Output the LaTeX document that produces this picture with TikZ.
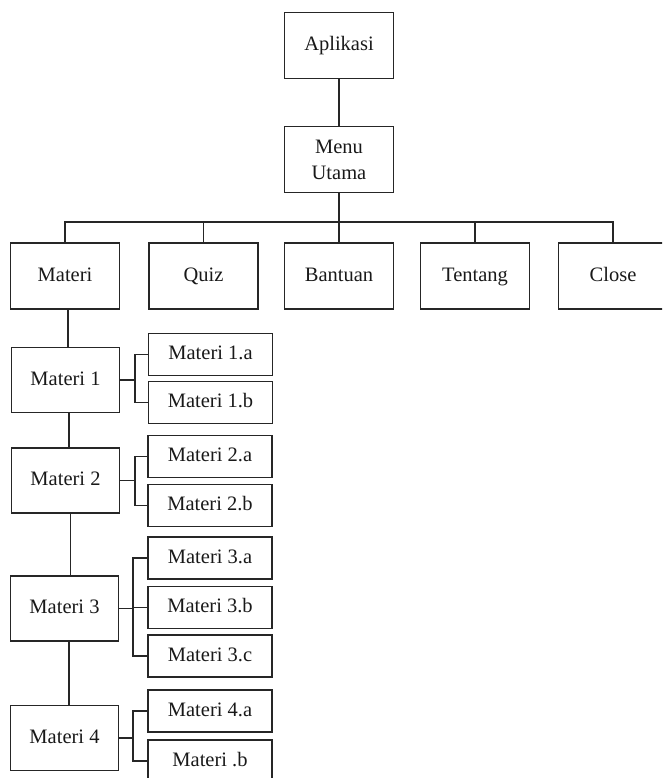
\documentclass[tikz,border=0pt]{standalone}
\usepackage{fontspec}
\setmainfont{Liberation Serif}
\begin{document}
\begin{tikzpicture}[x=1pt,y=-1pt,
  box/.style={draw=black!85,line width=1.8pt,inner sep=0pt,align=center,
    font=\fontsize{20.5}{26}\selectfont,text=black!90,text height=14pt,text depth=4pt},
  topbox/.style={box,minimum width=109pt,minimum height=66pt},
  mainbox/.style={box,minimum width=108pt,minimum height=65pt},
  subbox/.style={box,minimum width=124pt,minimum height=42pt},
  link/.style={draw=black!85,line width=1.8pt}]
\useasboundingbox (0,0) rectangle (662,778);
\clip (0,0) rectangle (662,778);
% top
\node[topbox] (apl) at (339,45.5) {Aplikasi};
\node[topbox,text height=,text depth=] (menu) at (339,159.5) {Menu\\Utama};
\node[topbox] (materi) at (65,276) {Materi};
\node[topbox] (quiz) at (203.5,276) {Quiz};
\node[topbox] (bantuan) at (339,276) {Bantuan};
\node[topbox] (tentang) at (475,276) {Tentang};
\node[topbox] (close) at (613,276) {Close};
\coordinate (bus) at (339,222);
\draw[link] (apl) -- (menu);
\draw[link] (menu.south) -- (bus);
\draw[link] (materi.north) |- (close.north |- bus) -- (close.north);
\draw[link] (quiz.north) -- (quiz.north |- bus);
\draw[link] (bantuan.north) -- (bantuan.north |- bus);
\draw[link] (tentang.north) -- (tentang.north |- bus);
% materi column
\node[mainbox] (m1) at (65.5,380) {Materi 1};
\node[mainbox] (m2) at (65.5,480.5) {Materi 2};
\node[mainbox] (m3) at (64.5,608.5) {Materi 3};
\node[mainbox] (m4) at (64.5,738) {Materi 4};
\draw[link] ([xshift=3pt]materi.south) -- ([xshift=3pt]materi.south |- m1.north);
\draw[link] ([xshift=3.5pt]m1.south) -- ([xshift=3.5pt]m1.south |- m2.north);
\draw[link] ([xshift=5pt]m2.south) -- ([xshift=5pt]m2.south |- m3.north);
\draw[link] ([xshift=4.5pt]m3.south) -- ([xshift=4.5pt]m3.south |- m4.north);
% sub boxes
\node[subbox] (m1a) at (210.5,354.5) {Materi 1.a};
\node[subbox] (m1b) at (210.5,402.5) {Materi 1.b};
\node[subbox] (m2a) at (210,456.5) {Materi 2.a};
\node[subbox] (m2b) at (210,505.5) {Materi 2.b};
\node[subbox] (m3a) at (210,558) {Materi 3.a};
\node[subbox] (m3b) at (210,607.5) {Materi 3.b};
\node[subbox] (m3c) at (210,656) {Materi 3.c};
\node[subbox] (m4a) at (210,711) {Materi 4.a};
\node[subbox] (m4b) at (210,761) {Materi .b};
% brackets
\coordinate (j1) at (135,380);
\coordinate (j2) at (135,480.5);
\coordinate (j3) at (133,608.5);
\coordinate (j4) at (133,738);
\draw[link] (m1.east) -- (j1);
\draw[link] (m1a.west) -| (j1) |- (m1b.west);
\draw[link] (m2.east) -- (j2);
\draw[link] (m2a.west) -| (j2) |- (m2b.west);
\draw[link] (m3.east) -- (j3);
\draw[link] (m3a.west) -| (j3) |- (m3c.west);
\draw[link] (j3 |- m3b.west) -- (m3b.west);
\draw[link] (m4.east) -- (j4);
\draw[link] (m4a.west) -| (j4) |- (m4b.west);
\end{tikzpicture}
\end{document}
